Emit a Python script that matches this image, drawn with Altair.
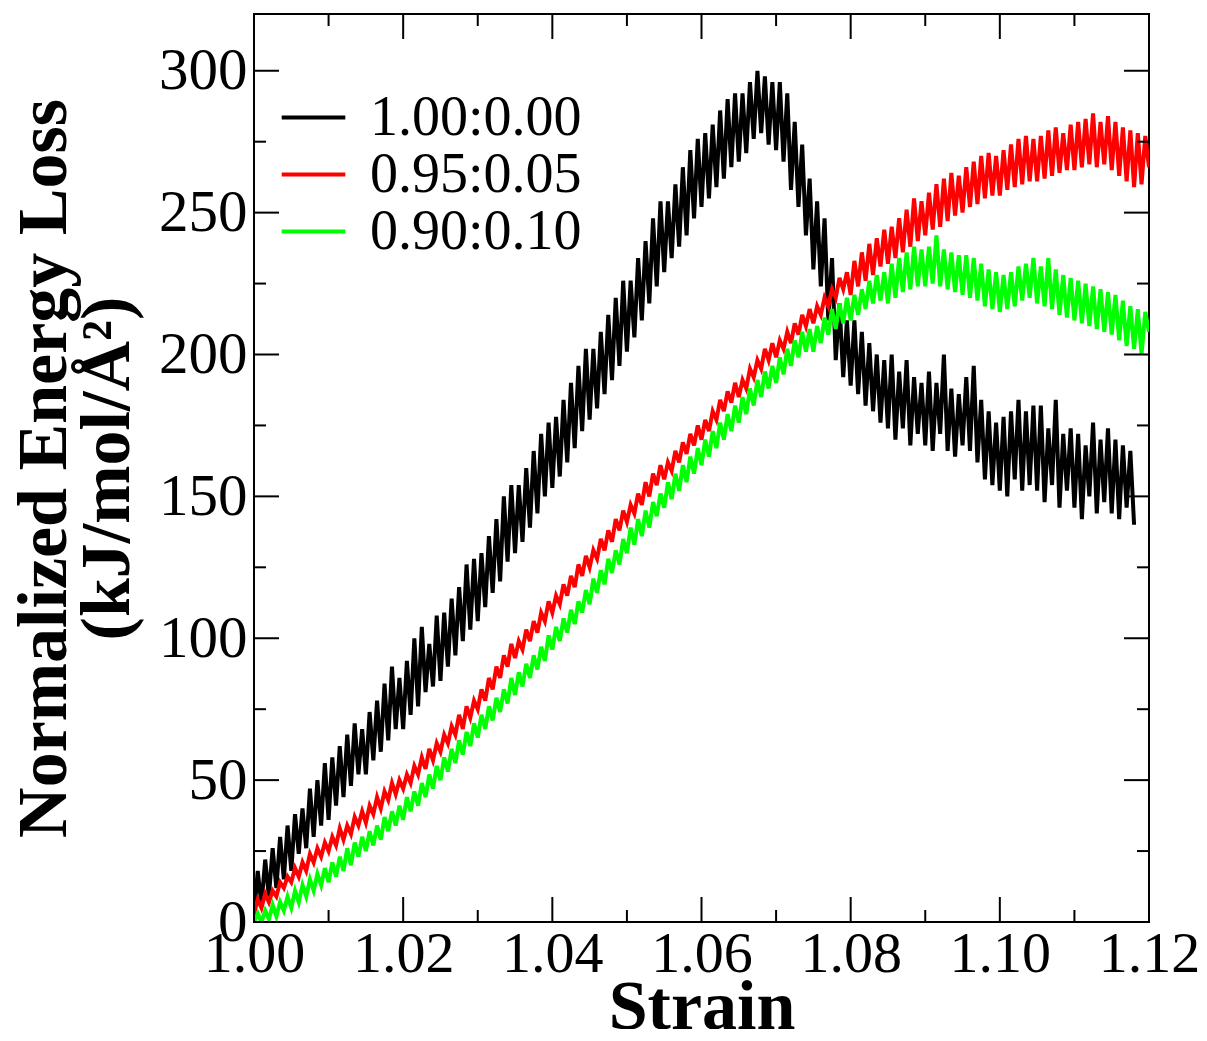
import altair as alt
import pandas as pd

# ---- data (strain grid step 0.0005 starting at 1.000) ----
series_names = ["1.00:0.00", "0.95:0.05", "0.90:0.10"]
series_colors = ["#000000", "#ff0000", "#00ff00"]

black_vals = [
    2, 18, 6, 22, 9, 26, 12, 30, 15, 34,
    18, 38, 24, 40, 26, 47, 30, 50, 34, 56,
    36, 58, 41, 62, 44, 66, 48, 70, 52, 68,
    52, 74, 57, 78, 60, 84, 64, 90, 68, 86,
    68, 92, 73, 100, 76, 104, 81, 98, 83, 108,
    85, 109, 90, 114, 94, 118, 99, 126, 103, 128,
    106, 130, 111, 136, 116, 142, 120, 150, 127, 154,
    130, 154, 134, 160, 139, 166, 144, 172, 150, 176,
    153, 178, 157, 184, 162, 190, 167, 196, 173, 202,
    177, 202, 181, 208, 186, 214, 191, 220, 196, 226,
    201, 226, 206, 234, 212, 240, 218, 248, 224, 254,
    229, 254, 234, 260, 238, 266, 242, 272, 248, 276,
    252, 278, 255, 281, 259, 286, 262, 290, 266, 292,
    268, 292, 271, 296, 276, 300, 278, 298, 274, 296,
    272, 296, 268, 292, 258, 282, 252, 274, 242, 262,
    230, 254, 224, 248, 212, 234, 198, 218, 192, 212,
    189, 212, 186, 208, 182, 204, 180, 200, 176, 198,
    174, 200, 170, 194, 174, 198, 168, 192, 172, 190,
    168, 194, 166, 190, 172, 200, 166, 188, 164, 186,
    168, 192, 166, 196, 162, 184, 156, 180, 154, 176,
    152, 178, 150, 180, 156, 184, 152, 180, 154, 182,
    152, 182, 148, 174, 154, 184, 146, 172, 152, 174,
    146, 172, 142, 168, 150, 176, 144, 170, 148, 174,
    144, 170, 142, 168, 146, 166, 140,
]

red_vals = [
    3, 8, 5, 10, 7, 11, 9, 14, 12, 16,
    14, 19, 16, 21, 18, 24, 21, 26, 23, 28,
    25, 30, 27, 33, 29, 34, 31, 37, 34, 39,
    35, 41, 38, 44, 40, 46, 43, 49, 45, 50,
    47, 52, 49, 55, 52, 58, 54, 61, 57, 63,
    60, 66, 63, 69, 66, 73, 68, 76, 72, 78,
    75, 82, 78, 86, 82, 90, 86, 94, 90, 98,
    93, 99, 96, 103, 99, 106, 102, 109, 106, 113,
    109, 115, 112, 119, 115, 122, 118, 126, 122, 129,
    125, 131, 128, 135, 131, 138, 134, 142, 138, 145,
    141, 147, 144, 151, 147, 155, 150, 158, 154, 161,
    156, 162, 159, 166, 162, 169, 165, 172, 168, 175,
    170, 177, 173, 180, 177, 184, 180, 187, 183, 190,
    185, 191, 188, 195, 192, 198, 195, 202, 198, 204,
    199, 205, 202, 208, 204, 211, 207, 214, 210, 216,
    211, 217, 214, 220, 217, 223, 220, 227, 223, 229,
    221, 233, 224, 236, 226, 239, 228, 241, 231, 244,
    232, 245, 234, 248, 236, 251, 238, 255, 240, 254,
    242, 257, 244, 260, 245, 262, 247, 264, 249, 263,
    250, 266, 252, 268, 253, 270, 255, 271, 256, 270,
    256, 272, 258, 274, 259, 276, 260, 277, 261, 276,
    261, 277, 262, 279, 263, 280, 264, 278, 265, 281,
    265, 282, 266, 283, 267, 285, 266, 282, 267, 284,
    265, 282, 263, 280, 261, 279, 259, 278, 260, 277,
    266,
]

green_vals = [
    0, 3, 0, 4, 1, 6, 2, 7, 4, 9,
    5, 11, 7, 13, 9, 15, 11, 17, 13, 19,
    14, 21, 16, 23, 18, 26, 20, 28, 23, 30,
    25, 32, 27, 34, 29, 37, 32, 39, 34, 41,
    36, 44, 39, 46, 41, 49, 44, 52, 47, 55,
    50, 58, 53, 61, 56, 64, 59, 67, 62, 70,
    65, 73, 68, 76, 71, 79, 74, 82, 77, 86,
    80, 88, 83, 91, 86, 94, 89, 97, 92, 101,
    96, 104, 99, 107, 102, 110, 105, 113, 109, 117,
    112, 121, 116, 124, 119, 128, 123, 131, 126, 135,
    130, 139, 133, 142, 136, 145, 139, 148, 143, 151,
    146, 155, 149, 158, 152, 161, 155, 164, 158, 167,
    161, 170, 164, 173, 167, 176, 170, 179, 173, 182,
    176, 185, 179, 188, 182, 191, 185, 194, 188, 196,
    190, 199, 193, 202, 196, 205, 199, 208, 201, 209,
    201, 210, 204, 213, 207, 216, 209, 218, 211, 220,
    212, 221, 214, 223, 216, 226, 218, 228, 219, 229,
    218, 232, 220, 234, 222, 236, 223, 238, 224, 237,
    224, 238, 225, 242, 224, 237, 223, 236, 222, 235,
    221, 235, 220, 234, 219, 232, 217, 230, 216, 229,
    215, 228, 216, 229, 217, 231, 219, 232, 220, 234,
    218, 231, 217, 234, 216, 230, 214, 228, 213, 227,
    212, 226, 211, 225, 210, 224, 209, 223, 208, 222,
    207, 221, 205, 219, 203, 217, 202, 216, 200, 215,
    208,
]

strain_start = 1.0
strain_step = 0.0005

x_major = [1.00, 1.02, 1.04, 1.06, 1.08, 1.10, 1.12]
x_minor = [1.01, 1.03, 1.05, 1.07, 1.09, 1.11]
y_major = [0, 50, 100, 150, 200, 250, 300]
y_minor = [25, 75, 125, 175, 225, 275]

# ---- tables ----
rows = []
for name, vals in zip(series_names, [black_vals, red_vals, green_vals]):
    for i, v in enumerate(vals):
        rows.append({"strain": round(strain_start + strain_step * i, 4),
                     "energy": v, "series": name, "idx": i})
df = pd.DataFrame(rows)

W, H = 895, 908
FONT = "Liberation Serif"

x_scale = alt.Scale(domain=[1.0, 1.12], nice=False, zero=False)
y_scale = alt.Scale(domain=[0, 320], nice=False, zero=True)
color_scale = alt.Scale(domain=series_names, range=series_colors)

x_axis = alt.Axis(values=x_major, format=".2f", domain=False, ticks=False, tickSize=0,
                  grid=False, labelFont=FONT, labelFontSize=58, labelColor="black",
                  labelPadding=3, labelFlush=False, labelOverlap=False,
                  title="Strain", titleFont=FONT, titleFontSize=70, titleFontWeight="bold",
                  titleColor="black", titleBaseline="alphabetic", titleY=106)
y_axis = alt.Axis(values=y_major, format="d", domain=False, ticks=False, tickSize=0,
                  grid=False, labelFont=FONT, labelFontSize=59, labelColor="black",
                  labelPadding=7, labelFlush=False, labelOverlap=False,
                  title=["Normalized Energy Loss", "(kJ/mol/Å²)"], titleFont=FONT,
                  titleFontSize=70, titleFontWeight="bold", titleColor="black",
                  titleLineHeight=63, titleAngle=270, titleAlign="center",
                  titleBaseline="top", titleX=-244, titleY=454)

legend = alt.Legend(title=None, orient="none", legendX=31, legendY=75,
                    symbolType="M-1.2,0L1.2,0", symbolSize=2809, symbolStrokeWidth=4,
                    labelFont=FONT, labelFontSize=56, labelColor="black",
                    labelOffset=28, rowPadding=0, padding=0, labelLimit=0)

line_layers = []
for k, name in enumerate(series_names):
    line_layers.append(
        alt.Chart(df).transform_filter(alt.datum.series == name)
        .mark_line(strokeWidth=4, clip=True)
        .encode(
            x=alt.X("strain:Q", scale=x_scale, axis=x_axis),
            y=alt.Y("energy:Q", scale=y_scale, axis=y_axis),
            color=alt.Color("series:N", scale=color_scale, legend=legend),
            order=alt.Order("idx:Q"),
        )
    )

def xticks(vals, length):
    d = pd.DataFrame({"strain": vals})
    bottom = alt.Chart(d).mark_rule(color="black", strokeWidth=2).encode(
        x=alt.X("strain:Q", scale=x_scale, axis=x_axis),
        y=alt.value(H), y2=alt.value(H - length))
    top = alt.Chart(d).mark_rule(color="black", strokeWidth=2).encode(
        x=alt.X("strain:Q", scale=x_scale, axis=x_axis),
        y=alt.value(0), y2=alt.value(length))
    return [bottom, top]

def yticks(vals, length):
    d = pd.DataFrame({"energy": vals})
    left = alt.Chart(d).mark_rule(color="black", strokeWidth=2).encode(
        y=alt.Y("energy:Q", scale=y_scale, axis=y_axis),
        x=alt.value(0), x2=alt.value(length))
    right = alt.Chart(d).mark_rule(color="black", strokeWidth=2).encode(
        y=alt.Y("energy:Q", scale=y_scale, axis=y_axis),
        x=alt.value(W), x2=alt.value(W - length))
    return [left, right]

tick_layers = xticks(x_major, 25) + xticks(x_minor, 12) + yticks(y_major, 25) + yticks(y_minor, 12)

chart = alt.layer(*line_layers, *tick_layers).properties(
    width=W, height=H,
    autosize=alt.AutoSizeParams(type="none"),
    padding={"left": 246, "top": 6, "right": 50, "bottom": 107},
    background="white",
).configure_view(stroke="black", strokeWidth=2)

chart.save("out.html", embed_options={"renderer": "svg", "actions": False})
